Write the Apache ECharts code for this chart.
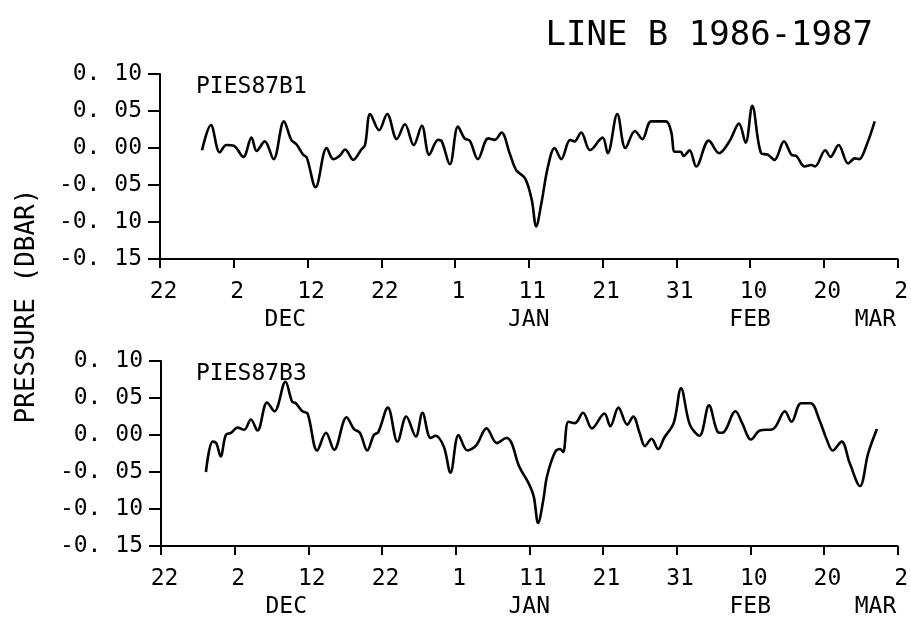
<!DOCTYPE html>
<html>
<head>
<meta charset="utf-8">
<script src="https://cdn.jsdelivr.net/npm/echarts@6/dist/echarts.min.js"></script>
<style>
  html, body { margin: 0; padding: 0; background: #fff; }
  #chart { width: 911px; height: 620px; }
</style>
</head>
<body>
<div id="chart"></div>
<script>
// x = days after 22 Nov 1986, tick every 10 days
const dayLabels = ['22', '2', '12', '22', '1', '11', '21', '31', '10', '20', '2']
const monthNames = ['DEC', 'JAN', 'FEB', 'MAR']
const monthDays = [17, 50, 80, 97]

// PIES87B1 (top panel)
const b1Days = [5.7, 6.9, 8.1, 9.0, 10.0, 11.3, 12.4, 13.1, 14.2, 15.4, 16.8, 17.8, 18.5, 19.4, 19.9,
  21.1, 22.6, 23.5, 24.4, 25.1, 26.2, 27.3, 27.8, 28.5, 29.7, 30.8, 32.1, 33.2, 34.4, 35.5, 36.5,
  37.7, 38.2, 39.3, 40.4, 41.3, 42.0, 43.1, 44.5, 45.4, 46.3, 47.4, 48.3, 49.5, 50.4, 51.0, 51.7,
  52.6, 53.5, 54.4, 55.6, 56.2, 57.1, 58.3, 60.0, 60.7, 62.0, 63.1, 64.4, 65.4, 66.6, 68.6, 69.3,
  69.8, 70.6, 71.0, 71.8, 72.7, 74.4, 75.8, 77.2, 78.5, 79.4, 80.3, 81.5, 82.4, 83.3, 84.6, 85.6,
  86.3, 87.4, 88.3, 88.8, 90.2, 90.9, 92.0, 93.3, 94.2, 94.8, 95.8, 96.9]
const b1Vals = [-0.003, 0.031, -0.006, 0.004, 0.003, -0.012, 0.014, -0.004, 0.009, -0.015, 0.036, 0.011, 0.005, -0.009, -0.013,
  -0.053, 0.000, -0.015, -0.010, -0.002, -0.016, -0.002, 0.004, 0.046, 0.024, 0.046, 0.012, 0.032, 0.004, 0.030, -0.009,
  0.011, 0.009, -0.022, 0.029, 0.013, 0.010, -0.015, 0.013, 0.011, 0.021, -0.007, -0.030, -0.041, -0.070, -0.106, -0.075,
  -0.025, 0.000, -0.015, 0.011, 0.009, 0.021, -0.003, 0.014, -0.007, 0.046, 0.000, 0.023, 0.012, 0.036, 0.036, 0.022,
  -0.005, -0.005, -0.011, -0.003, -0.025, 0.010, -0.007, 0.009, 0.033, 0.007, 0.057, -0.007, -0.009, -0.016, 0.009, -0.009,
  -0.011, -0.025, -0.023, -0.025, -0.003, -0.012, 0.004, -0.021, -0.014, -0.015, 0.004, 0.036]

// PIES87B3 (bottom panel)
const b3Days = [6.1, 7.0, 7.5, 8.1, 8.8, 9.5, 10.4, 11.3, 12.2, 13.1, 14.4, 15.4, 16.9, 17.8, 18.3,
  19.2, 19.9, 21.2, 22.4, 23.5, 25.2, 26.2, 27.0, 28.0, 28.9, 29.5, 30.8, 32.1, 33.3, 34.6, 35.5,
  36.6, 37.3, 38.4, 39.3, 40.4, 41.6, 42.8, 44.2, 45.6, 46.9, 47.6, 48.6, 49.9, 50.6, 51.2, 51.9,
  52.4, 53.5, 54.2, 54.6, 55.3, 56.2, 57.3, 58.5, 60.2, 61.0, 62.1, 63.3, 64.1, 65.0, 65.7, 66.6,
  67.5, 68.3, 69.6, 70.6, 71.8, 73.1, 74.4, 75.6, 76.2, 78.0, 78.9, 80.1, 81.3, 83.1, 84.7, 85.6,
  86.9, 88.2, 89.4, 90.3, 91.2, 92.4, 93.5, 94.9, 96.0, 97.2]
const b3Vals = [-0.050, -0.009, -0.011, -0.029, 0.000, 0.003, 0.010, 0.007, 0.021, 0.006, 0.044, 0.032, 0.072, 0.045, 0.043,
  0.032, 0.029, -0.021, 0.003, -0.020, 0.024, 0.008, 0.003, -0.021, 0.000, 0.004, 0.037, -0.009, 0.025, -0.002, 0.030,
  -0.004, -0.001, -0.016, -0.051, 0.000, -0.021, -0.014, 0.009, -0.011, -0.004, -0.011, -0.042, -0.065, -0.083, -0.119, -0.088,
  -0.056, -0.023, -0.019, -0.023, 0.018, 0.016, 0.030, 0.009, 0.029, 0.012, 0.037, 0.014, 0.025, 0.002, -0.015, -0.005,
  -0.019, -0.004, 0.016, 0.063, 0.014, -0.001, 0.040, 0.004, 0.003, 0.032, 0.016, -0.006, 0.006, 0.008, 0.032, 0.018,
  0.043, 0.043, 0.020, -0.004, -0.021, -0.009, -0.038, -0.069, -0.025, 0.008]

const FONT = 'DejaVu Sans Mono'

const pairs = (xs, ys) => xs.map((x, i) => [x, ys[i]])

// tick label like the plotter: "0. 05", "-0. 10"
const fmtY = v => (v < -1e-9 ? '-' : '') + Math.abs(v).toFixed(2).replace('.', '. ')

const dayAxis = grid => ({
  type: 'value',
  gridIndex: grid,
  min: 0,
  max: 100,
  interval: 10,
  axisLine: { onZero: false, lineStyle: { color: '#000', width: 2 } },
  axisTick: { length: 9, lineStyle: { color: '#000', width: 2 } },
  axisLabel: {
    color: '#000',
    fontFamily: FONT,
    fontSize: 23,
    margin: 22,
    padding: [0, 0, 0, 7],
    showMinLabel: true,
    showMaxLabel: true,
    formatter: v => dayLabels[Math.round(v / 10)]
  },
  splitLine: { show: false }
})

// month names sit on a second, invisible axis under the day numbers
const monthAxis = grid => ({
  type: 'value',
  gridIndex: grid,
  min: 0,
  max: 100,
  position: 'bottom',
  axisLine: { show: false, onZero: false },
  axisTick: { show: false },
  splitLine: { show: false },
  axisLabel: {
    color: '#000',
    fontFamily: FONT,
    fontSize: 23,
    margin: 50,
    customValues: monthDays,
    formatter: v => monthNames[monthDays.indexOf(v)]
  }
})

const pressAxis = grid => ({
  type: 'value',
  gridIndex: grid,
  min: -0.15,
  max: 0.10,
  interval: 0.05,
  axisLine: { onZero: false, lineStyle: { color: '#000', width: 2 } },
  axisTick: { length: 12, lineStyle: { color: '#000', width: 2 } },
  axisLabel: {
    color: '#000',
    fontFamily: FONT,
    fontSize: 23,
    margin: 18,
    formatter: fmtY
  },
  splitLine: { show: false }
})

const chart = echarts.init(document.getElementById('chart'))

chart.setOption({
  animation: false,
  backgroundColor: '#fff',
  title: [
    {
      text: 'LINE B 1986-1987',
      right: 33,
      top: 14,
      textStyle: { fontFamily: FONT, fontSize: 34, fontWeight: 'normal', color: '#000' }
    },
    {
      text: 'PIES87B1',
      left: 191,
      top: 71,
      textStyle: { fontFamily: FONT, fontSize: 23, fontWeight: 'normal', color: '#000' }
    },
    {
      text: 'PIES87B3',
      left: 191,
      top: 358,
      textStyle: { fontFamily: FONT, fontSize: 23, fontWeight: 'normal', color: '#000' }
    }
  ],
  graphic: [
    {
      type: 'text',
      x: 27,
      y: 306,
      rotation: Math.PI / 2,
      style: {
        text: 'PRESSURE (DBAR)',
        fontFamily: FONT,
        fontSize: 26,
        fill: '#000',
        align: 'center',
        verticalAlign: 'middle'
      }
    }
  ],
  grid: [
    { left: 160, right: 13, top: 74, height: 185 },
    { left: 161, right: 13, top: 361, height: 185 }
  ],
  xAxis: [dayAxis(0), monthAxis(0), dayAxis(1), monthAxis(1)],
  yAxis: [pressAxis(0), pressAxis(1)],
  series: [
    {
      name: 'PIES87B1',
      type: 'line',
      xAxisIndex: 0,
      yAxisIndex: 0,
      data: pairs(b1Days, b1Vals),
      smooth: 0.35,
      showSymbol: false,
      lineStyle: { color: '#000', width: 2.6 }
    },
    {
      name: 'PIES87B3',
      type: 'line',
      xAxisIndex: 2,
      yAxisIndex: 1,
      data: pairs(b3Days, b3Vals),
      smooth: 0.35,
      showSymbol: false,
      lineStyle: { color: '#000', width: 2.6 }
    }
  ]
})
</script>
</body>
</html>
